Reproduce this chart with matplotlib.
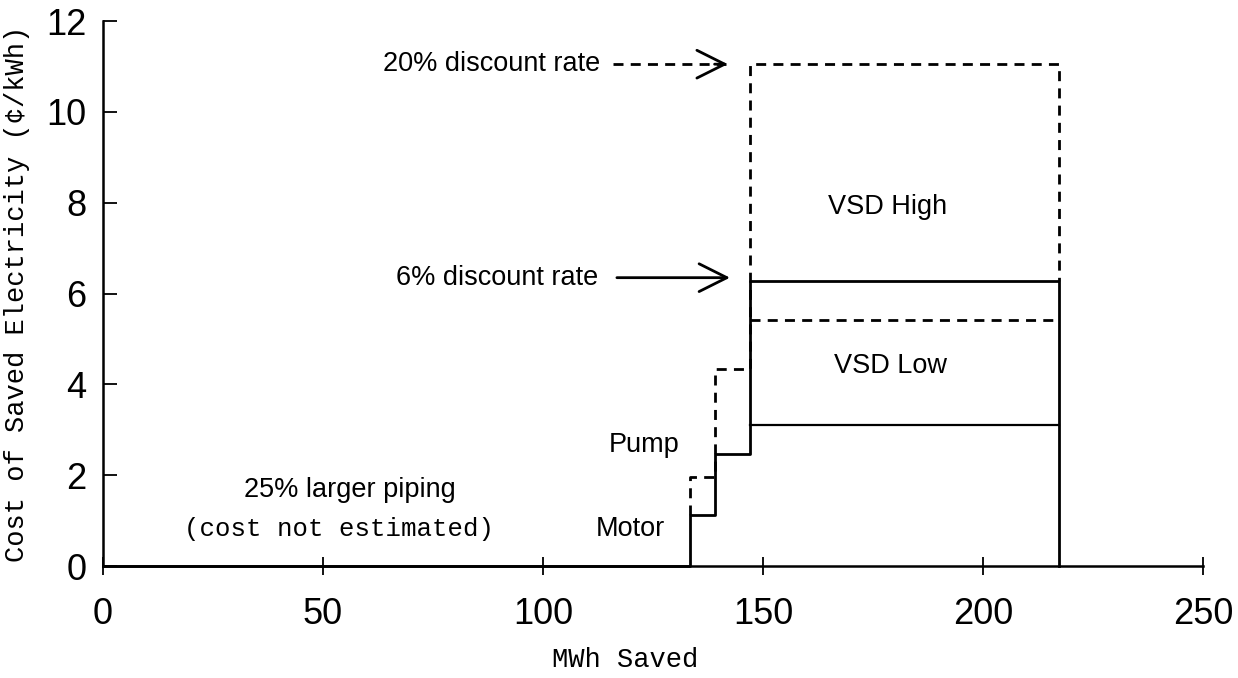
import matplotlib
matplotlib.use("Agg")
import matplotlib.pyplot as plt

# conservation measures, in order of cost (MWh saved on x, cents/kWh on y)
piping_end = 133.5
measure_names = ["Motor", "Pump", "VSD"]
measure_start = [133.5, 139.1, 147.0]
measure_end = [139.1, 147.0, 217.2]

# cost of saved electricity at 6% and 20% discount rates
cost_6pct_high = [1.12, 2.47, 6.28]
cost_20pct_high = [1.96, 4.35, 11.05]
vsd_low_6pct = 3.1
vsd_low_20pct = 5.42

SANS = "Liberation Sans"
MONO = "Liberation Mono"
LW = 2.0
DASH = (0, (3.6, 2.6))


def supply_curve(start, end, costs, first_y):
    xs, ys = [start[0]], [first_y]
    for s, e, c in zip(start, end, costs):
        xs += [s, e]
        ys += [c, c]
    return xs, ys


fig = plt.figure(figsize=(12.38, 6.78), dpi=100)
ax = fig.add_axes([0.0832, 0.165, 0.8885, 0.804])

# 20% discount rate curve (dashed), drawn under the solid one
xs, ys = supply_curve(measure_start, measure_end, cost_20pct_high, cost_6pct_high[0])
xs.append(measure_end[-1])
ys.append(cost_6pct_high[-1])
ax.plot(xs, ys, color="black", lw=LW, ls=DASH, clip_on=False, zorder=2)
ax.plot([measure_start[-1], measure_end[-1]], [vsd_low_20pct, vsd_low_20pct],
        color="black", lw=LW, ls=DASH, zorder=2)

# 6% discount rate curve (solid)
xs, ys = supply_curve(measure_start, measure_end, cost_6pct_high, 0)
xs = [0] + xs + [measure_end[-1]]
ys = [0] + ys + [0]
ax.plot(xs, ys, color="black", lw=LW, clip_on=False, zorder=3)
ax.plot([measure_start[-1], measure_end[-1]], [vsd_low_6pct, vsd_low_6pct],
        color="black", lw=1.6, zorder=3)

ax.set_xlim(0, 250)
ax.set_ylim(0, 12)
ax.set_xticks([0, 50, 100, 150, 200, 250])
ax.set_yticks([0, 2, 4, 6, 8, 10, 12])

for side in ["top", "right"]:
    ax.spines[side].set_visible(False)
for side in ["left", "bottom"]:
    ax.spines[side].set_linewidth(1.8)

ax.tick_params(axis="x", direction="inout", length=13, width=1.3, pad=16, labelsize=26)
ax.tick_params(axis="y", direction="in", length=10, width=1.3, pad=12, labelsize=26)
for lbl in ax.get_xticklabels() + ax.get_yticklabels():
    lbl.set_fontfamily(SANS)

ax.set_xlabel("MWh Saved", fontsize=19.5, family=MONO)
ax.xaxis.label.set_va("center")
ax.xaxis.set_label_coords(0.475, -0.172)
ax.set_ylabel("Cost of Saved Electricity (\u00a2/kWh)", fontsize=19.5, family=MONO)
ax.yaxis.label.set_va("center")
ax.yaxis.set_label_coords(-0.078, 0.5)

# discount rate call-outs
ax.plot([116.0, 141.5], [11.05, 11.05], color="black", lw=LW, ls=DASH)
ax.annotate("", xy=(142.0, 11.05), xytext=(139.0, 11.05),
            arrowprops=dict(arrowstyle="->,head_length=1.0,head_width=0.5",
                            lw=LW, color="black", mutation_scale=20,
                            shrinkA=0, shrinkB=0))
ax.text(113.0, 11.05, "20% discount rate", ha="right", va="center",
        fontsize=19.5, family=SANS)

ax.annotate("", xy=(142.5, 6.35), xytext=(116.8, 6.35),
            arrowprops=dict(arrowstyle="->,head_length=1.0,head_width=0.5",
                            lw=LW, color="black", mutation_scale=20,
                            shrinkA=0, shrinkB=0))
ax.text(112.5, 6.35, "6% discount rate", ha="right", va="center",
        fontsize=19.5, family=SANS)

# measure labels
ax.text(178.4, 7.9, "VSD High", ha="center", va="center", fontsize=19.5, family=SANS)
ax.text(179.0, 4.4, "VSD Low", ha="center", va="center", fontsize=19.5, family=SANS)
ax.text(123.0, 2.66, "Pump", ha="center", va="center", fontsize=19.5, family=SANS)
ax.text(119.8, 0.82, "Motor", ha="center", va="center", fontsize=19.5, family=SANS)
ax.text(56.2, 1.68, "25% larger piping", ha="center", va="center",
        fontsize=19.5, family=SANS)
ax.text(53.6, 0.82, "(cost not estimated)", ha="center", va="center",
        fontsize=18.5, family=MONO)

fig.savefig("out.png", dpi=100)
